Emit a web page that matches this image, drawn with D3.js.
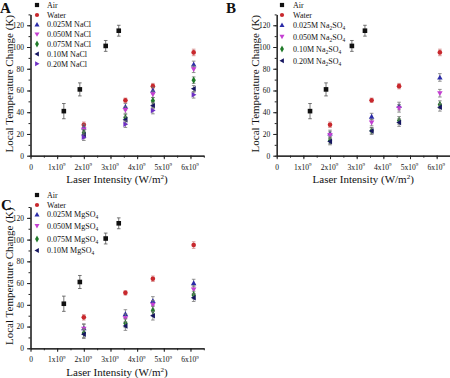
<!DOCTYPE html>
<html><head><meta charset="utf-8">
<script src="https://cdn.jsdelivr.net/npm/d3@7"></script>
<style>
body{margin:0;background:#fff;}
svg{display:block;}
text{font-family:"Liberation Serif","Times New Roman",serif;fill:#111;}
</style></head>
<body><svg id="chart" width="450" height="378"></svg>
<script>
// ---------- data ----------
const xTickValues = [0, 1e9, 2e9, 3e9, 4e9, 5e9, 6e9];
const xTickLabels = ["0", "1x10|9", "2x10|9", "3x10|9", "4x10|9", "5x10|9", "6x10|9"];
const yTickValues = [0, 20, 40, 60, 80, 100, 120];

const airX = [1.25e9, 1.85e9, 2.82e9, 3.31e9];
const airY = [41, 61, 101, 115];
const airErr = [7, 6, 5, 5];

const saltX = [2.0e9, 3.56e9, 4.59e9, 6.12e9];
const waterY = [28.5, 51, 64, 95];
const waterErr = [2.5, 2, 2.5, 3];

// Panel A: NaCl
const nacl025 = [26, 45, 60, 84];
const nacl050 = [24, 42, 56.5, 79.5];
const nacl075 = [21, 35, 50.5, 69.5];
const nacl010 = [19, 33, 46, 61.5];
const nacl020 = [17, 29, 41.5, 56];
const naclErr = [3, 3, 3, 3];

// Panel B: Na2SO4
const na2so4_025 = [20.5, 36, 45.7, 72];
const na2so4_050 = [19, 30.5, 43.6, 57.5];
const na2so4_010 = [14, 23, 32.5, 47];
const na2so4_020 = [13, 22.7, 30.5, 44.5];
const na2so4Err = [3, 3, 3.5, 3.5];

// Panel C: MgSO4
const mgso4_025 = [18.5, 31.5, 43.5, 60];
const mgso4_050 = [18, 27.6, 40, 54];
const mgso4_075 = [14, 23, 34.5, 49];
const mgso4_010 = [13, 20.5, 30, 46.6];
const mgso4Err = [4, 4, 4, 3.5];

// ---------- styles ----------
const COL = {air:"#111111", water:"#c8282d", blue:"#2b2ba8", magenta:"#c43fd2",
             green:"#1f7a28", navy:"#161660", purple:"#6e2fc4"};

const svg = d3.select("#chart");

function symbolPath(type, size){
  const s = size;
  switch(type){
    case "square": return d3.symbol(d3.symbolSquare, s*s)();
    case "circle": return d3.symbol(d3.symbolCircle, s*s*0.8)();
    case "up": return `M0,${-s*0.6}L${s*0.6},${s*0.45}L${-s*0.6},${s*0.45}Z`;
    case "down": return `M0,${s*0.6}L${s*0.6},${-s*0.45}L${-s*0.6},${-s*0.45}Z`;
    case "left": return `M${-s*0.6},0L${s*0.45},${-s*0.6}L${s*0.45},${s*0.6}Z`;
    case "right": return `M${s*0.6},0L${-s*0.45},${-s*0.6}L${-s*0.45},${s*0.6}Z`;
    case "diamond": return d3.symbol(d3.symbolDiamond, s*s*0.75)();
  }
}

function labelWithSub(sel, parts){
  // parts: array of [text, mode] mode: "n" normal, "sub", "sup"
  parts.forEach(p=>{
    const t = sel.append("tspan").text(p[0]);
    if(p[1]==="sub"){ t.attr("font-size","5.5px").attr("dy","2"); }
    else if(p[1]==="norm-after-sub"){ t.attr("dy","-2"); }
  });
}

function drawPanel(cfg){
  const g = svg.append("g");
  const x = d3.scaleLinear().domain([0, 6.5e9]).range([cfg.x0, cfg.x0 + 173.3]);
  const y = d3.scaleLinear().domain([0, 130]).range([cfg.y0, cfg.y0 - 141.3]);

  // minor ticks
  g.append("g").attr("transform",`translate(0,${cfg.y0})`)
    .call(d3.axisBottom(x).tickValues(d3.range(0, 6.51e9, 0.5e9)).tickSize(2).tickSizeOuter(0).tickFormat(""))
    .call(a=>a.selectAll("line,path").attr("stroke","#222"));
  g.append("g").attr("transform",`translate(${cfg.x0},0)`)
    .call(d3.axisLeft(y).tickValues(d3.range(0, 131, 10)).tickSize(2).tickSizeOuter(0).tickFormat(""))
    .call(a=>a.selectAll("line,path").attr("stroke","#222"));

  // major x axis
  const xa = g.append("g").attr("transform",`translate(0,${cfg.y0})`)
    .call(d3.axisBottom(x).tickValues(xTickValues).tickSize(3.5).tickSizeOuter(0).tickPadding(5)
      .tickFormat((d,i)=>xTickLabels[i]));
  xa.selectAll("path,line").attr("stroke","#222").attr("stroke-width",1);
  xa.selectAll("text").attr("font-size","7.5px").attr("fill","#111")
    .attr("font-family",'"Liberation Serif","Times New Roman",serif')
    .each(function(){
      const t = d3.select(this); const s = t.text();
      if(s.includes("|")){
        const [a,b] = s.split("|");
        t.text(null).attr("dx","-1");
        t.append("tspan").text(a);
        t.append("tspan").text(b).attr("font-size","5px").attr("dy","-3.5");
      }
    });
  xa.select(".domain").attr("stroke-width",1.2);

  // major y axis
  const ya = g.append("g").attr("transform",`translate(${cfg.x0},0)`)
    .call(d3.axisLeft(y).tickValues(yTickValues).tickSize(3.5).tickSizeOuter(0).tickPadding(3));
  ya.selectAll("path,line").attr("stroke","#222");
  ya.select(".domain").attr("stroke-width",1.2);
  ya.selectAll("text").attr("font-size","7.5px").attr("fill","#111")
    .attr("font-family",'"Liberation Serif","Times New Roman",serif');

  // axis titles
  const yt = g.append("text")
    .attr("transform",`translate(${cfg.ylabX},${cfg.y0 - 72}) rotate(-90)`)
    .attr("text-anchor","middle").attr("font-size","11px");
  yt.text("Local Temperature Change (K)");

  const xt = g.append("text").attr("x", cfg.x0 + 86.5).attr("y", cfg.y0 + 27.5)
    .attr("text-anchor","middle").attr("font-size","11px");
  xt.append("tspan").text("Laser Intensity (W/m");
  xt.append("tspan").text("2").attr("font-size","7px").attr("dy","-4");
  xt.append("tspan").text(")").attr("dy","4");

  // panel letter
  g.append("text").attr("x", cfg.letterX).attr("y", cfg.letterY)
    .attr("font-size","15px").attr("font-weight","bold").text(cfg.letter);

  // series
  cfg.series.forEach(s=>{
    const pts = s.xs.map((xv,i)=>({x:xv, y:s.ys[i], e:s.err[i]}));
    const sg = g.append("g");
    sg.selectAll("g.eb").data(pts).join("g").attr("class","eb").each(function(d){
      const e = d3.select(this);
      const px = x(d.x);
      e.append("line").attr("x1",px).attr("x2",px).attr("y1",y(d.y-d.e)).attr("y2",y(d.y+d.e))
        .attr("stroke", s.ebColor || "#777").attr("stroke-width",0.8);
      [d.y-d.e, d.y+d.e].forEach(v=>{
        e.append("line").attr("x1",px-1.8).attr("x2",px+1.8).attr("y1",y(v)).attr("y2",y(v))
          .attr("stroke", s.ebColor || "#777").attr("stroke-width",0.8);
      });
    });
    sg.selectAll("path.pt").data(pts).join("path").attr("class","pt")
      .attr("d", symbolPath(s.shape, 4.6))
      .attr("transform", d=>`translate(${x(d.x)},${y(d.y)})`)
      .attr("fill", s.color);
  });

  // legend
  cfg.series.forEach((s,i)=>{
    const ly = cfg.legendY[i];
    g.append("path").attr("d", symbolPath(s.shape, 4.2))
      .attr("transform",`translate(${cfg.legSymX},${ly})`).attr("fill", s.color);
    const t = g.append("text").attr("x", cfg.legTextX).attr("y", ly + 2.8).attr("font-size","8px");
    s.label.forEach(p=>{
      const ts = t.append("tspan").text(p[0]);
      if(p[1]==="sub") ts.attr("font-size","5.5px").attr("dy","2");
      if(p[1]==="back") ts.attr("dy","-2");
    });
  });
}

const air = {xs:airX, ys:airY, err:airErr, color:COL.air, shape:"square", label:[["Air"]], ebColor:"#555"};
const water = {xs:saltX, ys:waterY, err:waterErr, color:COL.water, shape:"circle", label:[["Water"]], ebColor:"#d08080"};

drawPanel({
  letter:"A", letterX:0, letterY:13, x0:30.5, y0:155.7, ylabX:13,
  legSymX:37, legTextX:47, legendY:[5, 15, 24.5, 34.3, 44, 54, 63.7],
  series:[air, water,
    {xs:saltX, ys:nacl025, err:naclErr, color:COL.blue, shape:"up", label:[["0.025M NaCl"]]},
    {xs:saltX, ys:nacl050, err:naclErr, color:COL.magenta, shape:"down", label:[["0.050M NaCl"]]},
    {xs:saltX, ys:nacl075, err:naclErr, color:COL.green, shape:"diamond", label:[["0.075M NaCl"]]},
    {xs:saltX, ys:nacl010, err:naclErr, color:COL.navy, shape:"left", label:[["0.10M NaCl"]]},
    {xs:saltX, ys:nacl020, err:naclErr, color:COL.purple, shape:"right", label:[["0.20M NaCl"]]}
  ]
});

drawPanel({
  letter:"B", letterX:226, letterY:13, x0:276.7, y0:155.7, ylabX:259,
  legSymX:282, legTextX:293, legendY:[5, 15, 25, 36.7, 49, 60.7],
  series:[air, water,
    {xs:saltX, ys:na2so4_025, err:na2so4Err, color:COL.blue, shape:"up", label:[["0.025M Na"],["2","sub"],["SO","back"],["4","sub"]]},
    {xs:saltX, ys:na2so4_050, err:na2so4Err, color:COL.magenta, shape:"down", label:[["0.050M Na"],["2","sub"],["SO","back"],["4","sub"]]},
    {xs:saltX, ys:na2so4_010, err:na2so4Err, color:COL.green, shape:"diamond", label:[["0.10M Na"],["2","sub"],["SO","back"],["4","sub"]]},
    {xs:saltX, ys:na2so4_020, err:na2so4Err, color:COL.navy, shape:"left", label:[["0.20M Na"],["2","sub"],["SO","back"],["4","sub"]]}
  ]
});

drawPanel({
  letter:"C", letterX:1, letterY:210, x0:30.5, y0:348.3, ylabX:13,
  legSymX:37, legTextX:47, legendY:[195, 205, 214.5, 226, 239, 250.5],
  series:[air, water,
    {xs:saltX, ys:mgso4_025, err:mgso4Err, color:COL.blue, shape:"up", label:[["0.025M MgSO"],["4","sub"]]},
    {xs:saltX, ys:mgso4_050, err:mgso4Err, color:COL.magenta, shape:"down", label:[["0.050M MgSO"],["4","sub"]]},
    {xs:saltX, ys:mgso4_075, err:mgso4Err, color:COL.green, shape:"diamond", label:[["0.075M MgSO"],["4","sub"]]},
    {xs:saltX, ys:mgso4_010, err:mgso4Err, color:COL.navy, shape:"left", label:[["0.10M MgSO"],["4","sub"]]}
  ]
});
</script></body></html>
